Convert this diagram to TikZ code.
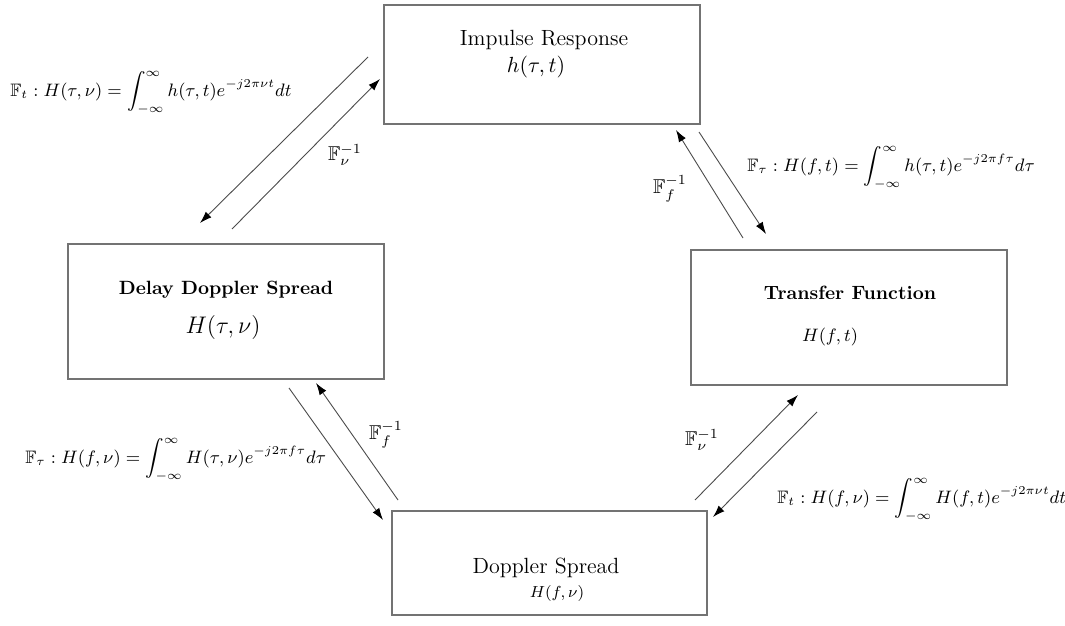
\documentclass[tikz,border=0pt]{standalone}
\usepackage{amsmath,amssymb}
\usepackage{fontspec}
\usetikzlibrary{arrows.meta}
\begin{document}
\begin{tikzpicture}[x=0.5pt,y=-0.5pt,
  box/.style={draw=black!55,line width=0.9pt,inner sep=0pt},
  conn/.style={draw=black!70,line width=0.45pt,-{Latex[length=6pt,width=4pt,black]}},
  ttl/.style={inner sep=0pt,font=\fontsize{11}{13}\selectfont},
  btl/.style={inner sep=0pt,font=\fontsize{9.6}{11}\selectfont\bfseries},
  eq/.style={inner sep=0pt,font=\fontsize{9}{11}\selectfont},
  inv/.style={inner sep=0pt,font=\fontsize{10}{12}\selectfont}
]
\useasboundingbox[fill=white] (0,0) rectangle (1065,626);

% boxes
\node[box,minimum width=158pt,minimum height=59.5pt] (ir) at (542,64.5) {};
\node[box,minimum width=158pt,minimum height=67.5pt] (dds) at (226,311.5) {};
\node[box,minimum width=158pt,minimum height=67.5pt] (tf) at (849,317.5) {};
\node[box,minimum width=157.5pt,minimum height=52pt] (ds) at (549.5,563) {};

% box texts
\node[ttl] (irt) at (544,40) {Impulse Response};
\node[ttl] (irm) at (536,67) {$h(\tau,t)$};
\node[btl] (ddst) at (226,290) {Delay Doppler Spread};
\node[inv,font=\fontsize{12}{13}\selectfont] (ddsm) at (223,327) {$H(\tau,\nu)$};
\node[btl] (tft) at (850,293) {Transfer Function};
\node[inv,font=\fontsize{9}{11}\selectfont] (tfm) at (830,337) {$H(f,t)$};
\node[ttl] (dst) at (546,568) {Doppler Spread};
\node[inv,font=\fontsize{8}{10}\selectfont] (dsm) at (557,593) {$H(f,\nu)$};

% arrow end points
\coordinate (a1s) at (368,57);  \coordinate (a1e) at (200,223);
\coordinate (a2s) at (232,229); \coordinate (a2e) at (380,79);
\coordinate (a3s) at (743,238); \coordinate (a3e) at (676,130);
\coordinate (a4s) at (699,132); \coordinate (a4e) at (766,234);
\coordinate (a5s) at (289,388); \coordinate (a5e) at (383,520);
\coordinate (a6s) at (398,500); \coordinate (a6e) at (316,383);
\coordinate (a7s) at (695,500); \coordinate (a7e) at (798,395);
\coordinate (a8s) at (817,412); \coordinate (a8e) at (713,517);

\draw[conn] (a1s) -- (a1e);
\draw[conn] (a2s) -- (a2e);
\draw[conn] (a3s) -- (a3e);
\draw[conn] (a4s) -- (a4e);
\draw[conn] (a5s) -- (a5e);
\draw[conn] (a6s) -- (a6e);
\draw[conn] (a7s) -- (a7e);
\draw[conn] (a8s) -- (a8e);

% transform labels
\node[eq,anchor=west] (eq1) at (10,93) {$\displaystyle \mathbb{F}_t : H(\tau,\nu) = \int_{-\infty}^{\infty} h(\tau,t)e^{-j2\pi\nu t}dt$};
\node[eq,anchor=west] (eq2) at (747,168) {$\displaystyle \mathbb{F}_\tau : H(f,t) = \int_{-\infty}^{\infty} h(\tau,t)e^{-j2\pi f\tau}d\tau$};
\node[eq,anchor=west] (eq3) at (25,460) {$\displaystyle \mathbb{F}_\tau : H(f,\nu) = \int_{-\infty}^{\infty} H(\tau,\nu)e^{-j2\pi f\tau}d\tau$};
\node[eq,anchor=west] (eq4) at (777,500) {$\displaystyle \mathbb{F}_t : H(f,\nu) = \int_{-\infty}^{\infty} H(f,t)e^{-j2\pi\nu t}dt$};

\node[inv] (i1) at (345,155) {$\mathbb{F}_\nu^{-1}$};
\node[inv] (i2) at (670,189) {$\mathbb{F}_f^{-1}$};
\node[inv] (i3) at (386,435) {$\mathbb{F}_f^{-1}$};
\node[inv] (i4) at (702,440) {$\mathbb{F}_\nu^{-1}$};
\end{tikzpicture}
\end{document}
